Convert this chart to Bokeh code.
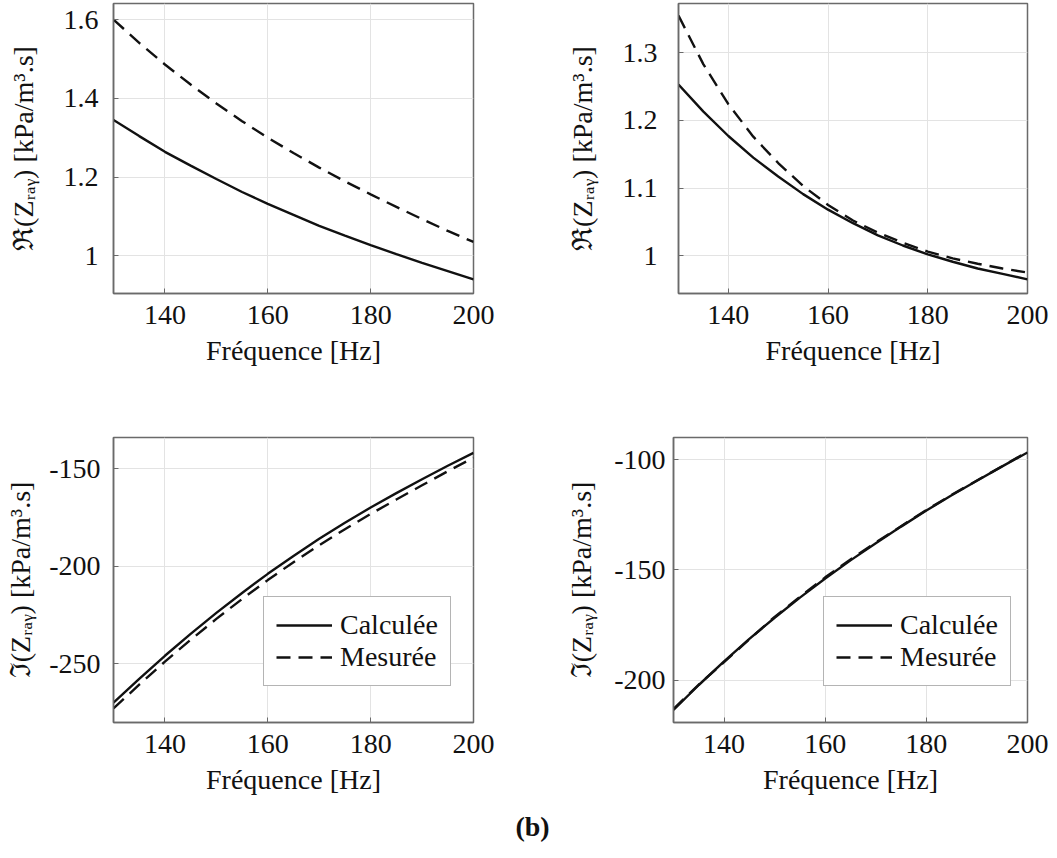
from bokeh.plotting import figure
from bokeh.models import Range1d, FixedTicker, Legend, LegendItem, Div
from bokeh.layouts import column, row
from bokeh.embed import file_html
from bokeh.resources import INLINE

# ---------------- data ----------------
freq = [130, 135, 140, 145, 150, 155, 160, 165, 170, 175, 180, 185, 190, 195, 200]

# top-left: real part (kPa/m3.s)
tl_calc = [1.345, 1.304, 1.264, 1.229, 1.195, 1.162, 1.132, 1.104, 1.076, 1.051, 1.027, 1.004, 0.982, 0.961, 0.940]
tl_meas = [1.600, 1.541, 1.486, 1.435, 1.387, 1.342, 1.300, 1.261, 1.224, 1.189, 1.156, 1.124, 1.093, 1.063, 1.035]

# top-right: real part
tr_calc = [1.253, 1.213, 1.177, 1.145, 1.117, 1.091, 1.068, 1.048, 1.030, 1.015, 1.002, 0.991, 0.981, 0.973, 0.965]
tr_meas = [1.355, 1.283, 1.224, 1.176, 1.137, 1.103, 1.075, 1.052, 1.034, 1.019, 1.006, 0.996, 0.988, 0.981, 0.975]

# bottom-left: imaginary part
bl_calc = [-270.0, -257.8, -246.0, -234.8, -224.0, -213.8, -204.0, -194.8, -186.0, -177.8, -170.0, -162.6, -155.5, -148.6, -142.0]
bl_meas = [-273.0, -260.8, -249.0, -237.8, -227.1, -216.9, -207.2, -198.0, -189.3, -181.1, -173.3, -165.9, -158.6, -151.4, -144.5]

# bottom-right: imaginary part
br_calc = [-213.5, -202.2, -191.5, -181.3, -171.7, -162.6, -153.9, -145.7, -137.9, -130.4, -123.1, -116.2, -109.6, -103.1, -96.8]
br_meas = [-213.0, -202.0, -191.8, -181.5, -171.3, -162.2, -153.4, -145.3, -137.6, -130.2, -122.9, -116.0, -109.5, -103.0, -96.5]

x_ticks = [140, 160, 180, 200]
x_tick_labels = ["140", "160", "180", "200"]
tl_ticks = [1.0, 1.2, 1.4, 1.6]
tl_tick_labels = ["1", "1.2", "1.4", "1.6"]
tr_ticks = [1.0, 1.1, 1.2, 1.3]
tr_tick_labels = ["1", "1.1", "1.2", "1.3"]
bl_ticks = [-250, -200, -150]
bl_tick_labels = ["-250", "-200", "-150"]
br_ticks = [-200, -150, -100]
br_tick_labels = ["-200", "-150", "-100"]

x_label = "Fréquence [Hz]"
re_label = "ℜ(Zᵣₐᵧ) [kPa/m³.s]"
im_label = "ℑ(Zᵣₐᵧ) [kPa/m³.s]"
legend_labels = ["Calculée", "Mesurée"]
caption = "(b)"

FONT = "Liberation Serif"
FS = "28px"
LINE = "#111111"
FRAME = "#6a6a6a"
TEXT = "#111111"


def make_fig(width, height, yr, yticks, ylabels, ylabel, mb_left, mb_top, mb_bottom, mb_right,
             tick_standoff, label_standoff, calc, meas, legend):
    p = figure(width=width, height=height, x_range=Range1d(130, 200), y_range=Range1d(*yr),
               output_backend="svg", toolbar_location=None,
               min_border_left=mb_left, min_border_right=mb_right,
               min_border_top=mb_top, min_border_bottom=mb_bottom)
    p.outline_line_color = FRAME
    p.outline_line_width = 1.5
    p.background_fill_color = "white"
    p.border_fill_color = "white"

    p.xaxis.ticker = FixedTicker(ticks=x_ticks)
    p.xaxis.major_label_overrides = {t: l for t, l in zip(x_ticks, x_tick_labels)}
    p.yaxis.ticker = FixedTicker(ticks=yticks)
    p.yaxis.major_label_overrides = {t: l for t, l in zip(yticks, ylabels)}

    for ax in (p.xaxis[0], p.yaxis[0]):
        ax.axis_line_color = FRAME
        ax.axis_line_width = 1.5
        ax.major_tick_line_color = FRAME
        ax.major_tick_in = 5
        ax.major_tick_out = 0
        ax.minor_tick_line_color = None
        ax.major_label_text_font = FONT
        ax.major_label_text_font_size = FS
        ax.major_label_text_color = TEXT
        ax.axis_label_text_font = FONT
        ax.axis_label_text_font_size = FS
        ax.axis_label_text_font_style = "normal"
        ax.axis_label_text_color = TEXT
    p.xaxis.axis_label = x_label
    p.xaxis.major_label_standoff = 12
    p.xaxis.axis_label_standoff = 8
    p.yaxis.axis_label = ylabel
    p.yaxis.major_label_standoff = tick_standoff
    p.yaxis.axis_label_standoff = label_standoff

    p.xgrid.grid_line_color = "#e3e3e3"
    p.ygrid.grid_line_color = "#e3e3e3"
    p.xgrid.grid_line_width = 1
    p.ygrid.grid_line_width = 1

    r1 = p.line(freq, calc, line_color=LINE, line_width=2.4)
    r2 = p.line(freq, meas, line_color=LINE, line_width=2.4, line_dash="14 8")

    if legend:
        lg = Legend(items=[LegendItem(label=legend_labels[0], renderers=[r1]),
                           LegendItem(label=legend_labels[1], renderers=[r2])],
                    location=(150, 36))
        lg.label_text_font = FONT
        lg.label_text_font_size = FS
        lg.label_text_color = TEXT
        lg.glyph_width = 56
        lg.glyph_height = 30
        lg.label_standoff = 8
        lg.padding = 12
        lg.spacing = 0
        lg.margin = 0
        lg.border_line_color = FRAME
        lg.border_line_width = 1.2
        lg.background_fill_color = "white"
        lg.background_fill_alpha = 1.0
        p.add_layout(lg)
    return p


p1 = make_fig(563, 388, (0.904, 1.641), tl_ticks, tl_tick_labels, re_label,
              113, 3, 95, 90, 15, 22, tl_calc, tl_meas, False)
p2 = make_fig(492, 388, (0.944, 1.373), tr_ticks, tr_tick_labels, re_label,
              105, 3, 95, 28, 21, 22, tr_calc, tr_meas, False)
p3 = make_fig(563, 414, (-280.2, -134.1), bl_ticks, bl_tick_labels, im_label,
              113, 49, 80, 90, 13, 10, bl_calc, bl_meas, True)
p4 = make_fig(492, 414, (-219.2, -90.0), br_ticks, br_tick_labels, im_label,
              105, 49, 80, 28, 8, 14, br_calc, br_meas, True)

cap = Div(text=caption, width=1055, height=40,
          styles={"text-align": "center", "font-family": FONT, "font-size": "28px",
                  "font-weight": "bold", "line-height": "40px", "color": "#111111"})

layout = column(row(p1, p2), row(p3, p4), cap)

open("out.html", "w").write(file_html(layout, INLINE))
